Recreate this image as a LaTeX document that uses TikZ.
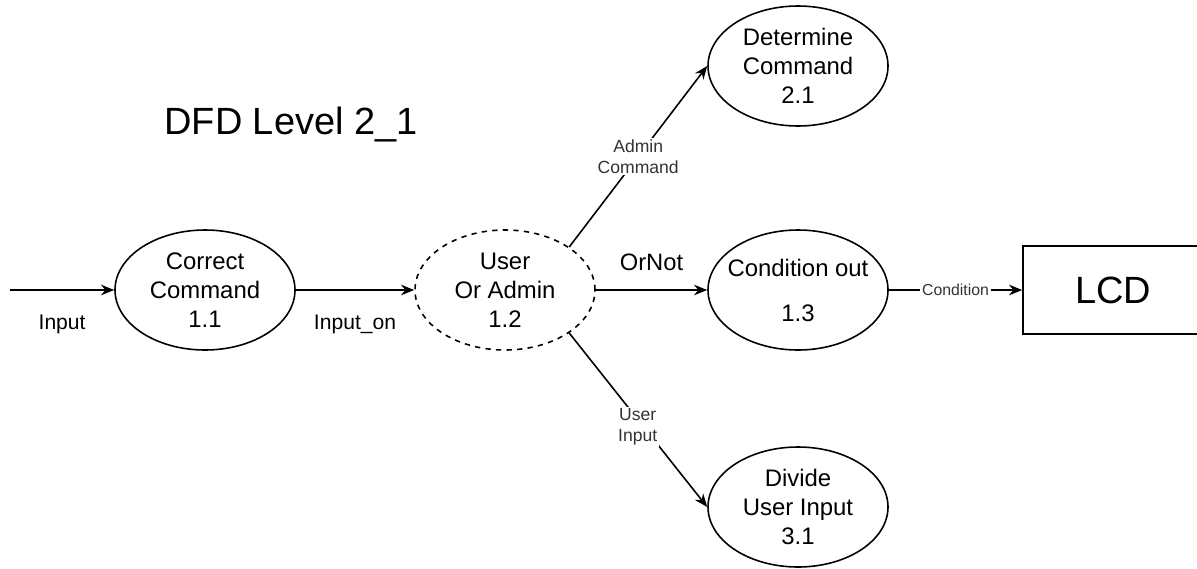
\documentclass[tikz,border=0pt]{standalone}
\usepackage{fontspec}
\setmainfont{Liberation Sans}
\usetikzlibrary{shapes.geometric,arrows.meta}

\tikzset{
  process/.style={ellipse, draw, line width=0.9pt, minimum width=3.6cm, minimum height=2.4cm,
    inner sep=0pt, align=center, font=\fontsize{13.6}{16.5}\selectfont},
  flow/.style={->, >={Stealth[length=7.5pt,width=6pt]}, line width=0.9pt},
  flowlabel/.style={font=\fontsize{10}{12}\selectfont, text=black!80, fill=white, inner sep=1pt, align=center},
}

\begin{document}
\begin{tikzpicture}

\useasboundingbox (0,0) rectangle (23.94,11.36);
% title
\node (title) at (5.82,8.87) {\fontsize{21.6}{26}\selectfont DFD Level 2\_1};
% processes
\node [process] (correct) at (4.10,5.56) {Correct\\Command\\1.1};
\node [process, dashed] (useradmin) at (10.10,5.56) {User\\Or Admin\\1.2};
\node [process, inner xsep=-0.4cm] (condout) at (15.96,5.56) {Condition out\\[0.32cm]1.3};
\node [process] (determine) at (15.96,10.04) {Determine\\Command\\2.1};
\node [process] (divide) at (15.96,1.22) {Divide\\User Input\\3.1};
% lcd
\node [draw, line width=0.9pt, minimum width=3.6cm, minimum height=1.76cm,
  font=\fontsize{21.6}{26}\selectfont] (lcd) at (22.26,5.56) {LCD};
\coordinate (in) at (0.2,5.56);
% arrows
\draw [flow] (in) -- (correct)
  node [midway, yshift=-0.68cm, font=\fontsize{12}{14}\selectfont] {Input};
\draw [flow] (correct) -- (useradmin)
  node [midway, yshift=-0.68cm, font=\fontsize{12}{14}\selectfont] {Input\_on};
\draw [flow] (useradmin) -- (condout)
  node [midway, yshift=0.56cm, font=\fontsize{13.5}{16}\selectfont] {OrNot};
\draw [flow] (condout) -- (lcd)
  node [flowlabel, midway, font=\fontsize{9}{11}\selectfont] {Condition};
\draw [flow] (useradmin.north east) -- (determine.west)
  node [flowlabel, midway] {Admin\\Command};
\draw [flow] (useradmin.south east) -- (divide.west)
  node [flowlabel, pos=0.54, xshift=-0.12cm] {User\\Input};

\end{tikzpicture}
\end{document}
